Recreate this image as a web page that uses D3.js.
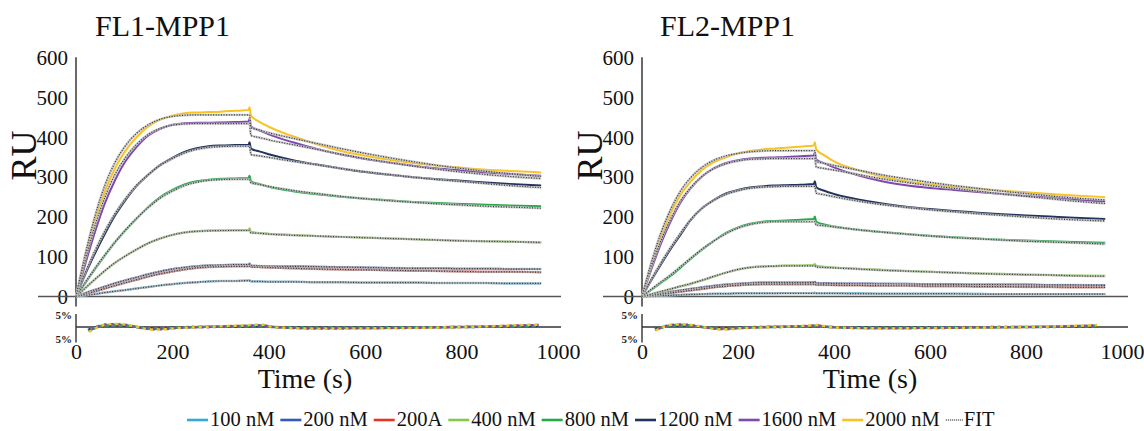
<!DOCTYPE html>
<html><head><meta charset="utf-8">
<script src="https://cdn.jsdelivr.net/npm/d3@7"></script>
<style>
html,body{margin:0;padding:0;background:#fff;}
svg{display:block;}
svg text{font-family:"Liberation Serif","Times New Roman",serif !important;}
</style></head>
<body><svg id="c" width="1144" height="431"></svg>
<script>
// ---------- DATA ----------
const tA = [0,20,40,60,80,100,125,150,175,200,225,250,275,300,330,358,360];
const tD = [363,380,400,450,500,550,600,650,700,750,800,850,900,965];
const seriesNames = ["100 nM","200 nM","200A","400 nM","800 nM","1200 nM","1600 nM","2000 nM"];
const seriesColors = ["#35A9DF","#3558C0","#E8332A","#86C84A","#25A94A","#22345E","#7F47B0","#F7C325"];
const yTicks = [0,100,200,300,400,500,600];
const xTicks = [0,200,400,600,800,1000];
const panelTitles = ["FL1-MPP1","FL2-MPP1"];

// FL1-MPP1 sensorgrams (assoc on tA, dissoc on tD)
const fl1_100   = [0,3,6,10,13,16,20,24,28,31,34,36,38,39,39,40,41, 38,38,37,37,36,36,35,35,35,34,34,34,33,33];
const fl1_200   = [0,9,17,25,33,40,48,56,63,69,73,76,78,79,80,80,83, 78,77,77,76,75,74,73,72,71,71,70,70,69,69];
const fl1_200A  = [0,6,13,20,27,34,42,50,57,63,68,72,74,75,76,76,79, 75,74,73,71,69,68,67,66,65,64,63,62,62,61];
const fl1_400   = [0,22,44,65,84,100,118,134,146,155,161,164,166,166,167,167,172, 162,160,158,155,152,150,148,146,144,142,140,139,138,136];
const fl1_800   = [0,35,70,103,135,163,195,225,250,268,282,290,294,296,297,298,304, 290,283,276,265,257,251,246,242,238,235,233,231,229,227];
const fl1_1200  = [0,58,110,158,202,238,277,306,331,349,364,373,378,380,381,382,388, 372,365,358,343,332,322,313,306,300,295,291,287,283,279];
const fl1_1600  = [0,85,165,235,290,335,375,405,422,432,436,437,437,438,439,440,447, 428,418,408,388,371,357,346,337,329,322,317,312,308,304];
const fl1_2000  = [0,105,195,265,320,362,400,428,445,455,461,463,464,465,467,469,476, 455,440,427,403,383,366,354,344,336,329,324,319,316,312];
// FL1-MPP1 fits
const fl1_fit100  = [0,3,6,10,13,16,20,24,28,31,34,36,38,39,39,40,40, 38,38,37,37,36,36,35,35,35,34,34,34,33,33];
const fl1_fit200  = [0,9,17,25,33,40,48,56,63,69,73,76,78,79,80,80,80, 77,77,76,76,75,74,73,72,71,71,70,70,69,69];
const fl1_fit200A = [0,6,13,20,27,34,42,50,57,63,68,72,74,75,76,76,76, 74,74,73,71,69,68,67,66,65,64,63,62,62,61];
const fl1_fit400  = [0,22,44,65,84,100,118,134,146,155,161,164,165,166,166,166,166, 160,159,157,154,152,150,148,146,144,142,140,139,138,136];
const fl1_fit800  = [0,37,72,105,136,164,196,224,248,265,279,287,292,294,295,295,295, 286,282,277,267,259,252,246,241,237,233,230,227,225,222];
const fl1_fit1200 = [0,62,117,165,207,242,279,307,330,347,361,370,375,377,378,378,378, 357,354,350,340,331,322,314,307,300,294,289,284,279,274];
const fl1_fit1600 = [0,95,180,250,305,345,382,408,423,431,434,435,435,435,435,435,435, 405,400,394,382,370,358,347,337,328,320,313,307,302,297];
const fl1_fit2000 = [0,110,205,280,335,375,410,432,446,453,456,457,457,457,457,457,457, 425,419,412,398,385,372,360,349,339,330,322,315,309,302];

// FL2-MPP1 sensorgrams
const fl2_100   = [0,1,2,3,4,5,6,7,7,8,8,8,8,9,9,9,10, 8,8,8,8,7,7,7,7,7,6,6,6,6,6];
const fl2_200   = [0,4,8,12,15,19,23,27,30,32,34,35,35,35,35,36,37, 34,34,33,33,32,32,31,31,30,30,30,29,29,29];
const fl2_200A  = [0,3,6,9,12,15,19,23,26,28,30,31,31,31,31,31,32, 30,29,29,28,27,27,26,26,25,25,24,24,23,23];
const fl2_400   = [0,6,12,19,25,31,40,50,60,68,73,76,77,78,78,79,82, 77,75,73,70,67,64,62,60,58,57,55,54,53,52];
const fl2_800   = [0,17,35,52,72,93,118,140,160,174,183,188,190,191,193,195,201, 188,181,176,168,162,157,153,149,146,143,141,139,137,135];
const fl2_1200  = [0,42,82,120,155,190,222,243,259,268,274,277,279,280,281,283,290, 275,266,258,244,234,226,220,215,211,207,204,201,198,195];
const fl2_1600  = [0,70,135,190,236,270,302,323,336,343,347,349,350,351,353,355,362, 345,335,325,305,290,280,273,268,263,258,253,249,244,239];
const fl2_2000  = [0,80,150,210,255,287,318,338,350,360,366,370,372,374,377,380,388, 370,355,340,318,302,290,282,276,271,266,262,258,254,250];
// FL2-MPP1 fits
const fl2_fit100  = [0,1,2,3,4,5,6,7,7,8,8,8,8,8,8,8,8, 8,8,8,7,7,7,7,7,6,6,6,6,6,6];
const fl2_fit200  = [0,4,8,12,16,19,23,27,30,32,34,35,35,35,35,35,35, 34,33,33,32,32,31,31,30,30,30,29,29,29,28];
const fl2_fit200A = [0,3,6,9,12,15,19,23,26,28,30,31,31,31,31,31,31, 29,29,28,28,27,27,26,26,25,25,24,24,23,23];
const fl2_fit400  = [0,6,13,19,26,32,41,51,60,68,73,75,76,77,77,77,77, 74,73,72,69,66,64,62,60,58,56,55,54,52,51];
const fl2_fit800  = [0,19,37,55,75,95,119,140,158,172,181,186,188,188,188,188,188, 180,178,175,168,162,157,152,148,145,142,139,137,135,132];
const fl2_fit1200 = [0,45,86,124,159,192,222,242,257,266,272,275,276,277,277,277,277, 260,256,251,240,231,224,218,213,208,204,200,196,193,190];
const fl2_fit1600 = [0,76,142,196,240,272,302,322,334,341,345,346,347,347,347,347,347, 326,322,318,307,296,287,279,272,265,258,252,246,240,234];
const fl2_fit2000 = [0,88,162,220,265,297,325,343,354,360,364,366,367,367,367,367,367, 340,335,330,318,306,296,287,279,272,265,259,253,248,243];

// Residuals (%)
const resTimesL = [25,40,60,80,100,120,140,160,180,200,250,300,350,385,410,450,500,600,700,800,870,920,960];
const resTimesR = [27,40,60,80,100,120,140,160,180,200,250,300,340,365,390,430,500,600,700,800,870,920,948];
const resL_2000 = [-2.2,-0.6,0.9,1.3,1.1,0.4,-0.6,-1.1,-1.0,-0.6,-0.1,0.3,0.7,1.0,0.0,-0.5,-0.7,-0.6,-0.4,0.0,0.4,0.8,1.0];
const resL_1600 = [-1.8,-0.3,1.0,1.1,0.9,0.2,-0.5,-0.9,-0.9,-0.5,-0.1,0.2,0.5,0.7,0.0,-0.4,-0.6,-0.5,-0.3,0.0,0.3,0.6,0.8];
const resL_800  = [-1.5,-0.4,0.7,0.9,0.7,0.2,-0.4,-0.7,-0.6,-0.4,0.0,0.2,0.4,0.6,0.0,-0.3,-0.4,-0.4,-0.2,0.0,0.2,0.5,0.6];
const resL_1200 = [-1.2,-0.2,0.6,0.8,0.6,0.1,-0.3,-0.6,-0.6,-0.3,0.0,0.1,0.3,0.5,0.0,-0.2,-0.3,-0.3,-0.2,0.0,0.2,0.4,0.5];
const resR_2000 = [-1.6,-0.4,0.9,1.1,0.9,0.3,-0.5,-1.0,-1.0,-0.6,-0.2,0.2,0.5,0.8,0.0,-0.4,-0.6,-0.5,-0.3,0.0,0.3,0.6,0.8];
const resR_1600 = [-1.3,-0.2,0.8,1.0,0.8,0.2,-0.4,-0.8,-0.8,-0.5,-0.1,0.2,0.4,0.6,0.0,-0.3,-0.5,-0.4,-0.2,0.0,0.2,0.5,0.7];
const resR_800  = [-1.1,-0.3,0.6,0.8,0.6,0.1,-0.3,-0.6,-0.6,-0.4,-0.1,0.1,0.3,0.5,0.0,-0.3,-0.4,-0.3,-0.2,0.0,0.2,0.4,0.5];
const resR_1200 = [-0.9,-0.2,0.5,0.7,0.5,0.1,-0.3,-0.5,-0.5,-0.3,0.0,0.1,0.3,0.4,0.0,-0.2,-0.3,-0.3,-0.1,0.0,0.1,0.3,0.4];

// ---------- DRAW ----------
const svg = d3.select("#c");
const times = tA.concat(tD);

const panels = [
  {title:panelTitles[0], x0:76, x1:558, lineStart:38, lineEnd:561,
   data:[fl1_100,fl1_200,fl1_200A,fl1_400,fl1_800,fl1_1200,fl1_1600,fl1_2000],
   fits:[fl1_fit100,fl1_fit200,fl1_fit200A,fl1_fit400,fl1_fit800,fl1_fit1200,fl1_fit1600,fl1_fit2000],
   resT:resTimesL, res:[resL_1200,resL_800,resL_1600,resL_2000], titleX:95, timeX:305},
  {title:panelTitles[1], x0:642, x1:1122, lineStart:603, lineEnd:1128,
   data:[fl2_100,fl2_200,fl2_200A,fl2_400,fl2_800,fl2_1200,fl2_1600,fl2_2000],
   fits:[fl2_fit100,fl2_fit200,fl2_fit200A,fl2_fit400,fl2_fit800,fl2_fit1200,fl2_fit1600,fl2_fit2000],
   resT:resTimesR, res:[resR_1200,resR_800,resR_1600,resR_2000], titleX:660, timeX:870}
];
const resColors = [seriesColors[5], seriesColors[4], seriesColors[6], seriesColors[7]];

panels.forEach(p => {
  const g = svg.append("g");
  const x = d3.scaleLinear().domain([0,1000]).range([p.x0,p.x1]);
  const y = d3.scaleLinear().domain([0,600]).range([296.5,58]);
  const yr = d3.scaleLinear().domain([-5,5]).range([339,315]);

  // title
  g.append("text").attr("x",p.titleX).attr("y",36).attr("font-size",30)
    .attr("fill","#111").text(p.title);

  // y axis labels
  const ya = d3.axisLeft(y).tickValues(yTicks).tickSize(0).tickPadding(8);
  const yg = g.append("g").attr("transform",`translate(${p.x0},0)`).call(ya);
  yg.select(".domain").remove();
  yg.selectAll("text").attr("font-size",21).attr("fill","#111");

  // axis lines
  g.append("line").attr("x1",p.x0).attr("x2",p.x0).attr("y1",y(602)).attr("y2",y(-25))
    .attr("stroke","#444").attr("stroke-width",1.6);
  g.append("line").attr("x1",p.lineStart).attr("x2",p.lineEnd).attr("y1",y(0)).attr("y2",y(0))
    .attr("stroke","#555").attr("stroke-width",1.6);

  // RU label
  g.append("text").attr("transform",`translate(${p.x0-40},${y(355)}) rotate(-90)`)
    .attr("text-anchor","middle").attr("font-size",36).attr("fill","#111").text("RU");

  const line = d3.line().x(d=>x(d[0])).y(d=>y(d[1])).curve(d3.curveMonotoneX);

  // data curves
  p.data.forEach((arr,i) => {
    g.append("path").datum(times.map((t,k)=>[t,arr[k]])).attr("d",line)
      .attr("fill","none").attr("stroke",seriesColors[i]).attr("stroke-width",2);
  });
  // fits
  p.fits.forEach(arr => {
    const pts = times.map((t,k)=>[t,arr[k]]);
    g.append("path").datum(pts).attr("d",line).attr("fill","none")
      .attr("stroke","#bdbdbd").attr("stroke-width",2.4).attr("stroke-opacity",0.8);
    g.append("path").datum(pts).attr("d",line).attr("fill","none")
      .attr("stroke","#333").attr("stroke-width",1.2).attr("stroke-dasharray","1,1.6");
  });

  // residual panel
  g.append("line").attr("x1",p.x0).attr("x2",p.x0).attr("y1",yr(5.4)).attr("y2",yr(-6.5))
    .attr("stroke","#333").attr("stroke-width",1.4);
  g.append("line").attr("x1",p.x0).attr("x2",p.lineEnd).attr("y1",yr(0)).attr("y2",yr(0))
    .attr("stroke","#333").attr("stroke-width",1.4);
  g.append("text").attr("x",p.x0-4).attr("y",yr(5)+4).attr("text-anchor","end")
    .attr("font-size",11).attr("font-weight","bold").attr("fill","#222").text("5%");
  g.append("text").attr("x",p.x0-4).attr("y",yr(-5)+4).attr("text-anchor","end")
    .attr("font-size",11).attr("font-weight","bold").attr("fill","#222").text("5%");
  const rline = d3.line().x(d=>x(d[0])).y(d=>yr(d[1])).curve(d3.curveMonotoneX);
  p.res.forEach((arr,i) => {
    g.append("path").datum(p.resT.map((t,k)=>[t,arr[k]])).attr("d",rline)
      .attr("fill","none").attr("stroke",resColors[i]).attr("stroke-width",2.6)
      .attr("stroke-dasharray","3,4").attr("stroke-dashoffset",i*2);
  });

  // x axis labels
  const xa = d3.axisBottom(x).tickValues(xTicks).tickSize(0).tickPadding(0).tickFormat(d3.format("d"));
  const xg = g.append("g").attr("transform",`translate(0,${yr(-5)+3})`).call(xa);
  xg.select(".domain").remove();
  xg.selectAll("text").attr("font-size",22).attr("fill","#111").attr("dy","0.75em");

  g.append("text").attr("x",p.timeX).attr("y",388).attr("text-anchor","middle")
    .attr("font-size",28).attr("fill","#111").text("Time (s)");
});

// legend
const legendLabels = seriesNames.concat(["FIT"]);
const lg = svg.append("g");
let lx = 187;
legendLabels.forEach((lab,i) => {
  const isFit = i === legendLabels.length-1;
  if (isFit) {
    lg.append("line").attr("x1",lx).attr("x2",lx+17).attr("y1",420).attr("y2",420)
      .attr("stroke","#555").attr("stroke-width",1.3).attr("stroke-dasharray","1,1");
  } else {
    lg.append("line").attr("x1",lx).attr("x2",lx+21).attr("y1",420).attr("y2",420)
      .attr("stroke",seriesColors[i]).attr("stroke-width",2.6);
  }
  const tx = lx + (isFit?18:23);
  const t = lg.append("text").attr("x",tx).attr("y",426).attr("font-size",20.5).attr("fill","#111").text(lab);
  const w = t.node().getComputedTextLength();
  lx = tx + w + 6;
});
</script></body></html>
